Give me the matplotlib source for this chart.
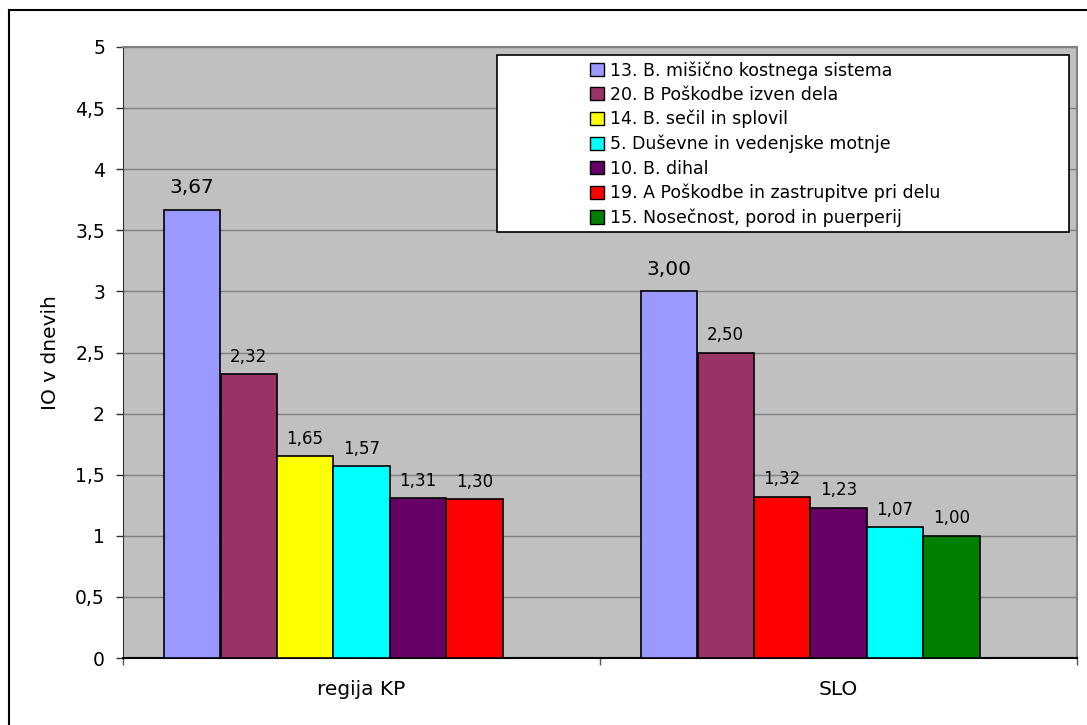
import matplotlib
matplotlib.use("Agg")
import matplotlib.pyplot as plt
from matplotlib.patches import Patch, Rectangle
from matplotlib.lines import Line2D
import numpy as np

# ---- data ----
categories = ["regija KP", "SLO"]
legend_codes = ["13", "20", "14", "5", "10", "19", "15"]
legend_names = [
    "13. B. mišično kostnega sistema",
    "20. B Poškodbe izven dela",
    "14. B. sečil in splovil",
    "5. Duševne in vedenjske motnje",
    "10. B. dihal",
    "19. A Poškodbe in zastrupitve pri delu",
    "15. Nosečnost, porod in puerperij",
]
legend_colors = ["#9999FF", "#993366", "#FFFF00", "#00FFFF", "#660066", "#FF0000", "#008000"]

kp_codes = ["13", "20", "14", "5", "10", "19"]
kp_values = [3.67, 2.32, 1.65, 1.57, 1.31, 1.30]
slo_codes = ["13", "20", "19", "10", "5", "15"]
slo_values = [3.00, 2.50, 1.32, 1.23, 1.07, 1.00]

yticks = [0, 0.5, 1, 1.5, 2, 2.5, 3, 3.5, 4, 4.5, 5]
ytick_labels = ["0", "0,5", "1", "1,5", "2", "2,5", "3", "3,5", "4", "4,5", "5"]

color_of = dict(zip(legend_codes, legend_colors))

plt.rcParams['font.family'] = ['DejaVu Sans']

fig = plt.figure(figsize=(10.87, 7.25), dpi=100)
ax = fig.add_axes([123/1087, (725-658)/725, (1077-123)/1087, (658-47)/725])
ax.set_facecolor("#C0C0C0")

nslots = 7
w = 56.4 / 477.0
groups = [(kp_codes, kp_values), (slo_codes, slo_values)]
for gi, (codes, vals) in enumerate(groups):
    for i, (c, v) in enumerate(zip(codes, vals)):
        xc = gi + (i - (nslots - 1) / 2) * w
        ax.bar(xc, v, width=w, color=color_of[c], edgecolor="black", linewidth=1.2, zorder=3)
        big = (i == 0)
        txt = f"{v:.2f}".replace(".", ",")
        ax.annotate(txt, (xc, v), xytext=(0, 9 if big else 6), textcoords="offset points",
                    ha="center", va="bottom", fontsize=14.5 if big else 12, zorder=4)

ax.set_xlim(-0.5, 1.5)
ax.set_ylim(0, 5)
ax.set_yticks(yticks)
ax.set_yticklabels(ytick_labels, fontsize=13.5)
ax.tick_params(axis="y", direction="out", length=5, width=1, pad=8, color="#333333")
ax.yaxis.grid(True, color="#808080", linewidth=1, zorder=0)
ax.set_axisbelow(True)

ax.set_xticks([-0.5, 0.5, 1.5])
ax.set_xticklabels([])
ax.tick_params(axis="x", which="major", direction="out", length=5, width=1, color="#555555")
ax.set_xticks([0, 1], minor=True)
ax.set_xticklabels(categories, minor=True, fontsize=14.5)
ax.tick_params(axis="x", which="minor", length=0, pad=16)

ax.set_ylabel("IO v dnevih", fontsize=14.5, labelpad=11)

for s in ["top", "right"]:
    ax.spines[s].set_color("#808080")
    ax.spines[s].set_linewidth(1.5)
ax.spines["left"].set_color("#333333")
ax.spines["bottom"].set_color("#000000")
ax.spines["bottom"].set_linewidth(1.5)

# legend frame
x0 = (497 - 123) / 954
x1 = (1069 - 123) / 954
yt = (658 - 55) / 611
yb = (658 - 232) / 611
ax.add_patch(Rectangle((x0, yb), x1 - x0, yt - yb, transform=ax.transAxes,
                       facecolor="white", edgecolor="black", linewidth=1.2, zorder=5))
handles = [Patch(facecolor=c, edgecolor="black", linewidth=1) for c in legend_colors]
leg = ax.legend(handles, legend_names, loc="upper left",
                bbox_to_anchor=((590 - 123) / 954, (658 - 61) / 611),
                frameon=False, fontsize=12.5, handlelength=0.8, handleheight=0.8,
                handletextpad=0.35, labelspacing=0.36, borderpad=0, borderaxespad=0)
leg.set_zorder(6)

# outer border
fig.add_artist(Line2D([9/1087, 9/1087], [0, 1 - 10/725], color="black", linewidth=1.5))
fig.add_artist(Line2D([9/1087, 1], [1 - 10/725, 1 - 10/725], color="black", linewidth=1.5))

fig.savefig("out.png", dpi=100)
